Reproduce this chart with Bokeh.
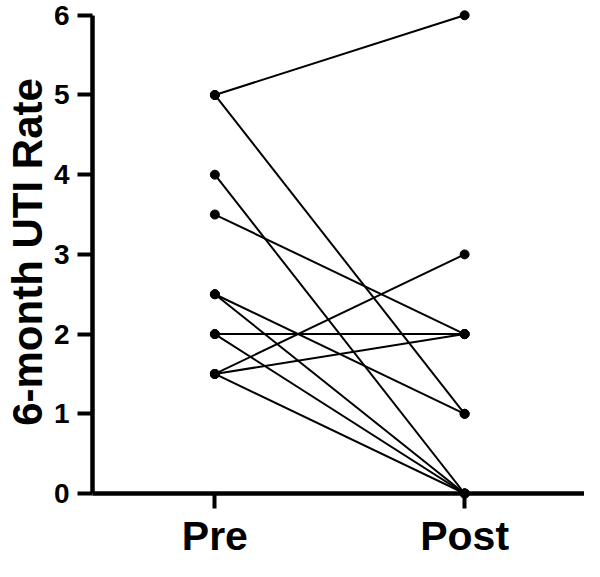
from bokeh.plotting import figure
from bokeh.models import Range1d, FixedTicker
from bokeh.embed import file_html
from bokeh.resources import INLINE

categories = ["Pre", "Post"]
pre_rate = [5, 5, 4, 3.5, 2.5, 2.5, 2, 2, 1.5, 1.5, 1.5]
post_rate = [6, 1, 0, 2, 1, 0, 2, 0, 3, 2, 0]
y_ticks = [0, 1, 2, 3, 4, 5, 6]

x_pre = categories.index("Pre") + 1
x_post = categories.index("Post") + 1

p = figure(width=584, height=561, output_backend="svg", toolbar_location=None,
           x_range=Range1d(0.51, 2.48), y_range=Range1d(0, 6.06),
           min_border_left=84, min_border_right=0, min_border_top=10, min_border_bottom=56)
p.outline_line_color = None
p.xgrid.visible = False
p.ygrid.visible = False
p.background_fill_color = "white"
p.border_fill_color = "white"

n = len(pre_rate)
p.segment(x0=[x_pre] * n, y0=pre_rate, x1=[x_post] * n, y1=post_rate,
          line_color="black", line_width=2)
p.scatter(x=[x_pre] * n, y=pre_rate, size=9, color="black", level="overlay")
p.scatter(x=[x_post] * n, y=post_rate, size=9, color="black", level="overlay")

FONT = "Liberation Sans"
xa = p.xaxis[0]
ya = p.yaxis[0]
for ax in (xa, ya):
    ax.axis_line_width = 4.5
    ax.axis_line_color = "black"
    ax.major_tick_line_width = 4
    ax.major_tick_line_color = "black"
    ax.major_tick_out = 15
    ax.major_tick_in = 0
    ax.minor_tick_line_color = None
    ax.major_label_text_font = FONT
    ax.major_label_text_font_style = "bold"
    ax.major_label_text_color = "black"

ya.ticker = FixedTicker(ticks=y_ticks)
ya.bounds = (0, 6)
ya.major_label_text_font_size = "28px"
ya.major_label_standoff = 8
ya.axis_label = "6-month UTI Rate"
ya.axis_label_text_font = FONT
ya.axis_label_text_font_style = "bold"
ya.axis_label_text_font_size = "42px"
ya.axis_label_text_color = "black"
ya.axis_label_standoff = 0

xa.ticker = FixedTicker(ticks=[x_pre, x_post])
xa.major_label_overrides = {x_pre: categories[0], x_post: categories[1]}
xa.major_label_text_font_size = "41px"
xa.major_label_standoff = 4

open("out.html", "w").write(file_html(p, INLINE))
